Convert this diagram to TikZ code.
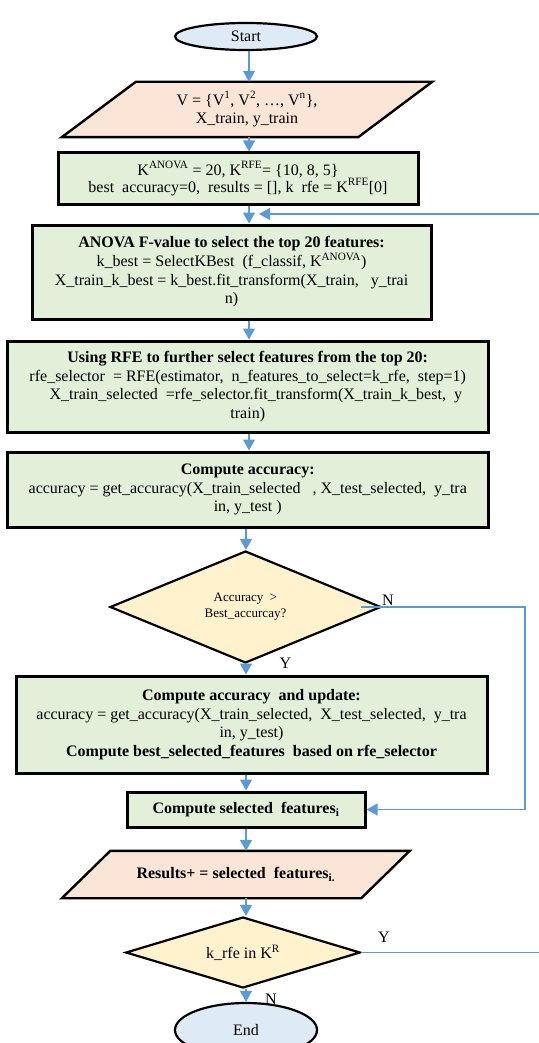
\documentclass[tikz,border=0pt]{standalone}
\usepackage{fontspec}
\setmainfont{Liberation Serif}
\usetikzlibrary{arrows.meta,shapes.geometric,backgrounds}
\definecolor{arrblue}{HTML}{5B9BD5}
\definecolor{ellfill}{HTML}{DEEBF7}
\definecolor{parfill}{HTML}{FBE5D6}
\definecolor{boxfill}{HTML}{E2F0D9}
\definecolor{decfill}{HTML}{FFF2CC}
\begin{document}
\begin{tikzpicture}[x=1pt,y=-1pt,
  every node/.style={font=\fontsize{16}{18.7}\selectfont, inner sep=0pt, align=center},
  term/.style={ellipse, draw=black, line width=2.2pt, fill=ellfill},
  procbox/.style={rectangle, draw=black, line width=3pt, fill=boxfill},
  iobox/.style={rectangle, draw=none},
  iodraw/.style={draw=black, line width=2.4pt, fill=parfill, line join=miter},
  decbox/.style={diamond, aspect=3, draw=black, line width=2.2pt, fill=decfill},
  arr/.style={draw=arrblue, line width=1.3pt, -{Triangle[width=12pt,length=11pt]}},
  lbl/.style={font=\fontsize{16}{18}\selectfont}
]
\useasboundingbox (0,0) rectangle (538,1043);
\coordinate (cA) at (249,0);
\coordinate (cB) at (246,0);
\coordinate (nTurn) at (525,0);
\coordinate (loopX) at (560,0);
\coordinate (loopin) at (259,214);

\node[term, minimum width=142pt, minimum height=27pt] (start) at (246,36.5) {Start};

\node[iobox, minimum width=296pt, minimum height=55pt] (in1) at (247,109.5)
  {V = \{V\textsuperscript{1}, V\textsuperscript{2}, …, V\textsuperscript{n}\},\\X\_train, y\_train};
\begin{scope}[on background layer]
\draw[iodraw] ([xshift=37pt]in1.north west) -- ([xshift=37pt]in1.north east)
  -- ([xshift=-37pt]in1.south east) -- ([xshift=-37pt]in1.south west) -- cycle;
\end{scope}

\node[procbox, minimum width=360pt, minimum height=51pt] (init) at (238,178.5)
  {K\textsuperscript{ANOVA} = 20, K\textsuperscript{RFE}= \{10, 8, 5\}\\[-1.7pt]best\ \ accuracy=0,\ \ results = [], k\ \ rfe = K\textsuperscript{RFE}[0]};

\node[procbox, minimum width=399pt, minimum height=94pt] (anova) at (231.5,272)
  {\textbf{ANOVA F-value to select the top 20 features:}\\k\_best = SelectKBest\ \ (f\_classif, K\textsuperscript{ANOVA})\\X\_train\_k\_best = k\_best.fit\_transform(X\_train,\ \ \ y\_trai\\n)};

\node[procbox, minimum width=480.5pt, minimum height=91pt] (rfe) at (247.75,386.5)
  {\textbf{Using RFE to further select features from the top 20:}\\rfe\_selector\ \ = RFE(estimator,\ \ n\_features\_to\_select=k\_rfe,\ \ step=1)\\\hspace*{16pt}X\_train\_selected\ \ =rfe\_selector.fit\_transform(X\_train\_k\_best,\ \ y\\train)};

\node[procbox, minimum width=480.5pt, minimum height=75pt] (acc) at (247.75,489.5)
  {\textbf{Compute accuracy:}\\accuracy = get\_accuracy(X\_train\_selected\ \ \ , X\_test\_selected,\ \ y\_tra\\in, y\_test )};

\node[decbox, minimum width=271pt, minimum height=112pt, font=\fontsize{13}{16}\selectfont] (dec1) at (245.5,607)
  {Accuracy\ \ >\\Best\_accurcay?};

\node[procbox, minimum width=471pt, minimum height=97pt] (upd) at (251.5,724.5)
  {\textbf{Compute accuracy\ \ and update:}\\accuracy = get\_accuracy(X\_train\_selected,\ \ X\_test\_selected,\ \ y\_tra\\in, y\_test)\\\textbf{Compute best\_selected\_features\ \ based on rfe\_selector}};

\node[procbox, minimum width=238pt, minimum height=35pt] (sel) at (246,809.5)
  {\textbf{Compute selected\ \ features\textsubscript{i}}};

\node[iobox, minimum width=299pt, minimum height=47pt] (res) at (235.8,874.5)
  {\textbf{Results+ = selected\ \ features\textsubscript{i.}}};
\begin{scope}[on background layer]
\draw[iodraw] ([xshift=24.25pt]res.north west) -- ([xshift=24.25pt]res.north east)
  -- ([xshift=-24.25pt]res.south east) -- ([xshift=-24.25pt]res.south west) -- cycle;
\end{scope}

\node[decbox, minimum width=234.6pt, minimum height=71pt] (dec2) at (243,952.5)
  {k\_rfe in K\textsuperscript{R}};

\node[term, minimum width=142pt, minimum height=54pt] (endn) at (246,1030) {End};

\node[lbl] (lN1) at (388,600) {N};
\node[lbl] (lY1) at (285.5,663) {Y};
\node[lbl] (lY2) at (384,937.5) {Y};
\node[lbl] (lN2) at (271,999) {N};

\draw[arr] (start.south -| cA) -- (in1.north -| cA);
\draw[arr] (in1.south -| cA) -- (init.north -| cA);
\draw[arr] (init.south -| cA) -- (anova.north -| cA);
\draw[arr] (anova.south -| cA) -- (rfe.north -| cA);
\draw[arr] (rfe.south -| cA) -- (acc.north -| cA);
\draw[arr] (acc.south -| cB) -- (dec1.north -| cB);
\draw[arr] (dec1.south -| cB) -- (upd.north -| cB);
\draw[arr] (upd.south -| cB) -- (sel.north -| cB);
\draw[arr] (sel.south -| cB) -- (res.north -| cB);
\draw[arr] (res.south -| cB) -- (dec2.north -| cB);
\draw[arr] (dec2.south -| cB) -- (endn.north -| cB);
\draw[arr] ([xshift=-21pt]dec1.east) -- (dec1.east -| nTurn) |- (sel.east);
\draw[arr] (dec2.east) -- (dec2.east -| loopX) |- (loopin);
\end{tikzpicture}
\end{document}
